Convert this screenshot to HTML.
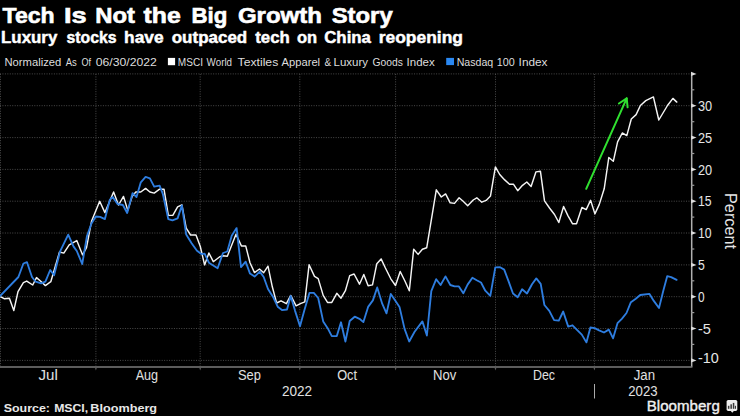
<!DOCTYPE html>
<html><head><meta charset="utf-8"><style>
html,body{margin:0;padding:0;background:#000;width:740px;height:416px;overflow:hidden;}
svg{display:block;}
text{font-family:"Liberation Sans",sans-serif;}
</style></head><body>
<svg width="740" height="416" viewBox="0 0 740 416">
<rect x="0" y="0" width="740" height="416" fill="#000"/>

<text x="2.62" y="23" font-size="22" font-weight="bold" fill="#fff" textLength="52.09" lengthAdjust="spacingAndGlyphs" stroke="#fff" stroke-width="0.6">Tech</text><text x="63.99" y="23" font-size="22" font-weight="bold" fill="#fff" textLength="22.71" lengthAdjust="spacingAndGlyphs" stroke="#fff" stroke-width="0.6">Is</text><text x="95.30" y="23" font-size="22" font-weight="bold" fill="#fff" textLength="39.70" lengthAdjust="spacingAndGlyphs" stroke="#fff" stroke-width="0.6">Not</text><text x="143.62" y="23" font-size="22" font-weight="bold" fill="#fff" textLength="37.23" lengthAdjust="spacingAndGlyphs" stroke="#fff" stroke-width="0.6">the</text><text x="191.53" y="23" font-size="22" font-weight="bold" fill="#fff" textLength="35.85" lengthAdjust="spacingAndGlyphs" stroke="#fff" stroke-width="0.6">Big</text><text x="237.92" y="23" font-size="22" font-weight="bold" fill="#fff" textLength="84.08" lengthAdjust="spacingAndGlyphs" stroke="#fff" stroke-width="0.6">Growth</text><text x="331.69" y="23" font-size="22" font-weight="bold" fill="#fff" textLength="60.98" lengthAdjust="spacingAndGlyphs" stroke="#fff" stroke-width="0.6">Story</text>
<text x="1.04" y="42.6" font-size="16" font-weight="bold" fill="#fff" textLength="56.23" lengthAdjust="spacingAndGlyphs" stroke="#fff" stroke-width="0.45">Luxury</text><text x="66.50" y="42.6" font-size="16" font-weight="bold" fill="#fff" textLength="50.02" lengthAdjust="spacingAndGlyphs" stroke="#fff" stroke-width="0.45">stocks</text><text x="124.06" y="42.6" font-size="16" font-weight="bold" fill="#fff" textLength="39.48" lengthAdjust="spacingAndGlyphs" stroke="#fff" stroke-width="0.45">have</text><text x="171.76" y="42.6" font-size="16" font-weight="bold" fill="#fff" textLength="75.46" lengthAdjust="spacingAndGlyphs" stroke="#fff" stroke-width="0.45">outpaced</text><text x="255.24" y="42.6" font-size="16" font-weight="bold" fill="#fff" textLength="34.48" lengthAdjust="spacingAndGlyphs" stroke="#fff" stroke-width="0.45">tech</text><text x="297.02" y="42.6" font-size="16" font-weight="bold" fill="#fff" textLength="20.20" lengthAdjust="spacingAndGlyphs" stroke="#fff" stroke-width="0.45">on</text><text x="324.24" y="42.6" font-size="16" font-weight="bold" fill="#fff" textLength="46.69" lengthAdjust="spacingAndGlyphs" stroke="#fff" stroke-width="0.45">China</text><text x="378.78" y="42.6" font-size="16" font-weight="bold" fill="#fff" textLength="84.16" lengthAdjust="spacingAndGlyphs" stroke="#fff" stroke-width="0.45">reopening</text>
<text x="4.53" y="65.7" font-size="11" fill="#ddd" textLength="56.76" lengthAdjust="spacingAndGlyphs">Normalized</text><text x="65.69" y="65.7" font-size="11" fill="#ddd" textLength="11.07" lengthAdjust="spacingAndGlyphs">As</text><text x="81.38" y="65.7" font-size="11" fill="#ddd" textLength="9.51" lengthAdjust="spacingAndGlyphs">Of</text><text x="95.69" y="65.7" font-size="11" fill="#ddd" textLength="61.17" lengthAdjust="spacingAndGlyphs">06/30/2022</text>
<rect x="167.9" y="57.9" width="7.2" height="7.3" fill="#fff"/>
<text x="177.80" y="65.7" font-size="11" fill="#ddd" textLength="25.16" lengthAdjust="spacingAndGlyphs">MSCI</text><text x="206.62" y="65.7" font-size="11" fill="#ddd" textLength="25.44" lengthAdjust="spacingAndGlyphs">World</text><text x="237.54" y="65.7" font-size="11" fill="#ddd" textLength="40.75" lengthAdjust="spacingAndGlyphs">Textiles</text><text x="281.54" y="65.7" font-size="11" fill="#ddd" textLength="38.56" lengthAdjust="spacingAndGlyphs">Apparel</text><text x="324.54" y="65.7" font-size="11" fill="#ddd" textLength="6.68" lengthAdjust="spacingAndGlyphs">&amp;</text><text x="333.53" y="65.7" font-size="11" fill="#ddd" textLength="34.49" lengthAdjust="spacingAndGlyphs">Luxury</text><text x="372.46" y="65.7" font-size="11" fill="#ddd" textLength="30.40" lengthAdjust="spacingAndGlyphs">Goods</text><text x="406.61" y="65.7" font-size="11" fill="#ddd" textLength="28.17" lengthAdjust="spacingAndGlyphs">Index</text>
<rect x="446.2" y="57.9" width="7.8" height="7.2" fill="#2a88f2"/>
<text x="456.70" y="65.7" font-size="11" fill="#ddd" textLength="36.56" lengthAdjust="spacingAndGlyphs">Nasdaq</text><text x="496.76" y="65.7" font-size="11" fill="#ddd" textLength="18.01" lengthAdjust="spacingAndGlyphs">100</text><text x="518.61" y="65.7" font-size="11" fill="#ddd" textLength="28.94" lengthAdjust="spacingAndGlyphs">Index</text>
<g stroke="#4a4a4a" stroke-width="1" stroke-dasharray="1 1.45"><line x1="0" y1="73.9" x2="691" y2="73.9"/><line x1="0" y1="105.7" x2="691" y2="105.7"/><line x1="0" y1="137.6" x2="691" y2="137.6"/><line x1="0" y1="169.4" x2="691" y2="169.4"/><line x1="0" y1="201.2" x2="691" y2="201.2"/><line x1="0" y1="233.0" x2="691" y2="233.0"/><line x1="0" y1="264.9" x2="691" y2="264.9"/><line x1="0" y1="296.7" x2="691" y2="296.7"/><line x1="0" y1="328.5" x2="691" y2="328.5"/><line x1="0" y1="360.4" x2="691" y2="360.4"/><line x1="0.5" y1="74" x2="0.5" y2="367"/><line x1="95.9" y1="74" x2="95.9" y2="367"/><line x1="200.2" y1="74" x2="200.2" y2="367"/><line x1="299.8" y1="74" x2="299.8" y2="367"/><line x1="395.6" y1="74" x2="395.6" y2="367"/><line x1="495.5" y1="74" x2="495.5" y2="367"/><line x1="594.4" y1="74" x2="594.4" y2="367"/></g>
<polyline points="0.0,296.4 4.6,298.8 9.4,298.2 13.8,310.6 18.0,291.6 23.4,282.6 26.7,281.1 32.7,285.0 36.5,277.6 41.0,281.5 45.4,285.6 50.8,281.7 59.5,252.0 63.8,253.1 69.2,244.9 76.8,240.6 82.6,254.9 86.5,247.7 91.5,221.3 99.7,201.3 104.9,212.6 113.6,192.0 118.5,205.0 123.5,196.4 127.8,210.4 132.2,196.4 135.8,192.0 140.8,192.0 145.6,188.4 149.9,192.0 154.2,193.1 159.6,189.2 164.0,189.2 168.3,215.2 172.8,215.4 177.6,206.9 181.9,204.8 186.2,228.1 190.6,235.0 196.0,235.0 200.3,246.5 204.6,264.9 208.9,253.0 213.3,261.7 219.8,256.7 223.0,255.8 227.3,256.3 236.0,234.2 241.4,245.9 245.7,245.9 250.0,262.7 254.5,272.6 259.5,269.0 263.7,272.7 268.0,266.2 272.3,286.8 276.6,303.0 281.0,300.8 286.4,303.7 290.7,295.4 296.1,305.8 300.4,303.7 304.8,301.9 309.1,264.7 314.5,276.4 318.2,278.6 323.2,295.4 327.5,302.4 331.8,302.4 336.8,293.3 341.0,298.2 345.4,290.7 349.7,275.6 354.1,274.0 359.5,284.2 363.8,274.5 368.1,285.7 372.5,284.9 376.8,263.7 381.1,258.9 385.4,268.0 390.8,278.8 395.5,285.5 400.2,271.5 404.9,281.0 409.3,290.8 413.7,249.2 418.1,254.4 422.4,249.2 426.7,247.8 436.3,189.8 441.3,197.0 445.6,193.9 450.2,202.8 454.5,203.4 459.1,197.8 463.4,201.5 467.7,205.8 473.2,200.0 476.8,197.8 481.8,202.2 486.1,200.4 490.5,195.9 495.4,166.9 499.7,174.5 504.7,179.9 509.5,184.2 513.4,184.2 517.7,190.7 522.5,185.3 526.8,182.0 531.1,186.4 535.9,171.9 540.4,171.2 544.5,200.9 549.5,208.0 554.5,214.5 558.8,222.5 563.6,206.5 567.9,215.6 572.6,223.8 576.5,223.8 581.9,207.5 586.2,209.6 590.6,200.3 594.9,213.9 599.2,204.6 604.2,188.8 608.8,157.5 613.3,161.3 617.6,141.8 622.3,133.0 626.8,135.6 631.3,119.0 636.1,114.6 640.4,105.5 645.8,100.6 653.4,96.9 658.8,120.0 667.5,105.5 672.9,98.4 676.8,102.1" fill="none" stroke="#f4f4f4" stroke-width="1.45" stroke-linejoin="round" stroke-linecap="round"/>
<polyline points="0.0,296.2 18.4,277.0 23.4,263.5 27.0,262.2 32.0,277.0 35.7,281.7 41.1,283.4 45.4,281.7 50.2,270.0 54.1,275.2 60.1,251.4 68.2,234.7 73.6,246.6 76.8,251.0 82.2,264.0 87.0,236.0 91.5,223.4 95.8,216.5 100.1,216.9 104.9,219.1 109.9,199.6 112.7,197.0 117.5,204.0 122.9,205.0 127.2,213.0 132.6,193.1 136.5,197.0 140.8,182.3 145.6,176.9 149.9,178.4 154.2,186.6 159.6,185.6 162.9,194.2 168.3,219.1 172.5,220.4 177.6,218.4 181.9,205.4 186.2,234.6 191.6,243.3 197.0,250.8 201.4,254.1 204.6,253.7 208.9,262.7 217.6,268.2 223.0,253.0 227.3,251.5 231.7,235.7 236.6,228.1 241.0,267.1 245.7,261.7 250.0,273.6 254.6,276.6 259.8,271.6 263.7,277.0 268.0,289.0 273.4,297.6 277.7,306.7 282.0,310.1 287.0,309.5 290.7,295.9 295.0,310.6 300.0,326.2 304.3,310.6 309.5,292.8 313.8,292.8 318.2,298.0 323.2,321.4 327.5,327.9 331.8,336.1 336.8,336.1 341.0,322.3 345.4,341.5 349.7,321.0 354.7,316.7 359.5,318.8 363.4,322.1 368.1,306.9 372.9,300.4 377.2,287.5 382.2,303.7 386.5,313.4 390.8,294.0 395.2,300.4 399.5,306.9 404.5,328.6 409.2,341.5 414.6,331.8 422.4,321.4 426.9,335.5 431.3,291.1 436.2,279.2 440.6,285.0 445.5,276.4 450.3,285.0 454.6,286.4 458.9,286.4 463.3,293.3 467.6,284.6 472.4,277.7 476.7,280.3 481.0,282.5 485.3,290.7 490.3,295.9 495.3,267.3 500.1,267.2 504.2,269.6 508.7,281.6 513.0,293.5 517.7,297.2 522.1,289.2 527.0,293.5 532.0,284.2 536.3,278.4 540.7,283.8 544.4,305.0 549.3,310.8 554.1,320.1 558.8,320.6 563.2,311.5 568.2,326.6 572.5,325.3 577.5,330.3 581.8,334.6 586.4,342.4 590.4,327.5 594.7,328.1 599.1,330.3 604.0,332.5 608.8,329.6 613.1,338.3 617.5,323.2 621.8,318.8 626.5,313.0 630.9,302.2 635.8,298.7 640.2,295.0 649.5,293.9 653.8,300.9 659.0,308.0 663.3,290.7 667.2,276.2 671.1,277.1 676.6,279.8" fill="none" stroke="#2e7ddf" stroke-width="1.85" stroke-linejoin="round" stroke-linecap="round"/>
<g stroke="#30e030" stroke-width="2" fill="none" stroke-linecap="round" stroke-linejoin="round"><line x1="586.2" y1="188.8" x2="626.7" y2="98.4"/><polyline points="618.9,103.5 626.7,98.4 627.6,107.3"/></g>
<line x1="691.7" y1="73" x2="691.7" y2="367.5" stroke="#b0b0b0" stroke-width="1.5"/>
<g fill="#dcdcdc"><polygon points="691,71.8 696.5,73.9 691,76.0"/><polygon points="691,103.6 696.5,105.7 691,107.8"/><polygon points="691,135.5 696.5,137.6 691,139.7"/><polygon points="691,167.3 696.5,169.4 691,171.5"/><polygon points="691,199.1 696.5,201.2 691,203.3"/><polygon points="691,230.9 696.5,233.0 691,235.1"/><polygon points="691,262.8 696.5,264.9 691,267.0"/><polygon points="691,294.6 696.5,296.7 691,298.8"/><polygon points="691,326.4 696.5,328.5 691,330.6"/><polygon points="691,358.2 696.5,360.4 691,362.5"/><rect x="691" y="89.2" width="3.3" height="1.2" fill="#999"/><rect x="691" y="121.1" width="3.3" height="1.2" fill="#999"/><rect x="691" y="152.9" width="3.3" height="1.2" fill="#999"/><rect x="691" y="184.7" width="3.3" height="1.2" fill="#999"/><rect x="691" y="216.5" width="3.3" height="1.2" fill="#999"/><rect x="691" y="248.4" width="3.3" height="1.2" fill="#999"/><rect x="691" y="280.2" width="3.3" height="1.2" fill="#999"/><rect x="691" y="312.0" width="3.3" height="1.2" fill="#999"/><rect x="691" y="343.8" width="3.3" height="1.2" fill="#999"/></g>
<g font-size="15" fill="#e6e6e6"><text x="697.9" y="110.9" textLength="14.2" lengthAdjust="spacingAndGlyphs">30</text><text x="697.9" y="142.8" textLength="14.2" lengthAdjust="spacingAndGlyphs">25</text><text x="697.9" y="174.6" textLength="14.2" lengthAdjust="spacingAndGlyphs">20</text><text x="697.9" y="206.4" textLength="13.6" lengthAdjust="spacingAndGlyphs">15</text><text x="697.9" y="238.2" textLength="13.6" lengthAdjust="spacingAndGlyphs">10</text><text x="697.9" y="270.1" textLength="6.8" lengthAdjust="spacingAndGlyphs">5</text><text x="697.9" y="301.9" textLength="6.6" lengthAdjust="spacingAndGlyphs">0</text><text x="697.9" y="333.7" textLength="13.0" lengthAdjust="spacingAndGlyphs">-5</text><text x="697.9" y="362.8" textLength="20.8" lengthAdjust="spacingAndGlyphs">-10</text></g>
<text x="0" y="0" font-size="16" fill="#e6e6e6" transform="translate(725 193) rotate(90)" textLength="56" lengthAdjust="spacingAndGlyphs">Percent</text>
<line x1="0" y1="367" x2="691.5" y2="367" stroke="#5c5c5c" stroke-width="2"/>
<g fill="#5c5c5c"><polygon points="94.7,367 95.9,370.5 97.1,367"/><polygon points="199.0,367 200.2,370.5 201.4,367"/><polygon points="298.6,367 299.8,370.5 301.0,367"/><polygon points="394.4,367 395.6,370.5 396.8,367"/><polygon points="494.3,367 495.5,370.5 496.7,367"/><polygon points="593.2,367 594.4,370.5 595.6,367"/></g>
<text x="38.46" y="379.9" font-size="13.8" fill="#e0e0e0" textLength="19.31" lengthAdjust="spacingAndGlyphs">Jul</text><text x="135.69" y="379.9" font-size="13.8" fill="#e0e0e0" textLength="22.39" lengthAdjust="spacingAndGlyphs">Aug</text><text x="237.99" y="379.9" font-size="13.8" fill="#e0e0e0" textLength="22.94" lengthAdjust="spacingAndGlyphs">Sep</text><text x="337.15" y="379.9" font-size="13.8" fill="#e0e0e0" textLength="19.87" lengthAdjust="spacingAndGlyphs">Oct</text><text x="432.99" y="379.9" font-size="13.8" fill="#e0e0e0" textLength="23.31" lengthAdjust="spacingAndGlyphs">Nov</text><text x="532.99" y="379.9" font-size="13.8" fill="#e0e0e0" textLength="22.00" lengthAdjust="spacingAndGlyphs">Dec</text><text x="633.69" y="379.9" font-size="13.8" fill="#e0e0e0" textLength="21.31" lengthAdjust="spacingAndGlyphs">Jan</text>
<text x="282.07" y="395.9" font-size="13.8" fill="#e0e0e0" textLength="30.09" lengthAdjust="spacingAndGlyphs">2022</text><text x="628.28" y="395.9" font-size="13.8" fill="#e0e0e0" textLength="29.32" lengthAdjust="spacingAndGlyphs">2023</text>
<line x1="594.5" y1="384" x2="594.5" y2="398.5" stroke="#aaa" stroke-width="1"/>
<text x="3.69" y="411.9" font-size="11.2" font-weight="bold" fill="#e8e8e8" textLength="46.24" lengthAdjust="spacingAndGlyphs">Source:</text><text x="54.15" y="411.9" font-size="11.2" font-weight="bold" fill="#e8e8e8" textLength="34.02" lengthAdjust="spacingAndGlyphs">MSCI,</text><text x="90.38" y="411.9" font-size="11.2" font-weight="bold" fill="#e8e8e8" textLength="66.71" lengthAdjust="spacingAndGlyphs">Bloomberg</text>
<text x="646.8" y="410.5" font-size="14" fill="#f0f0f0" stroke="#f0f0f0" stroke-width="0.35" textLength="73" lengthAdjust="spacingAndGlyphs">Bloomberg</text>
<rect x="726.6" y="399.9" width="10.7" height="11" rx="1.6" fill="#eee"/>
<polygon points="730.6,410.8 732.3,412.8 734,410.8" fill="#eee"/>
<g fill="#3a3a3a"><rect x="727.9" y="405.8" width="1.5" height="3"/><rect x="730.4" y="404.3" width="1.5" height="4.5"/><rect x="732.8" y="402.9" width="1.5" height="5.9"/><rect x="734.9" y="405.8" width="1.1" height="3"/></g>
</svg></body></html>
